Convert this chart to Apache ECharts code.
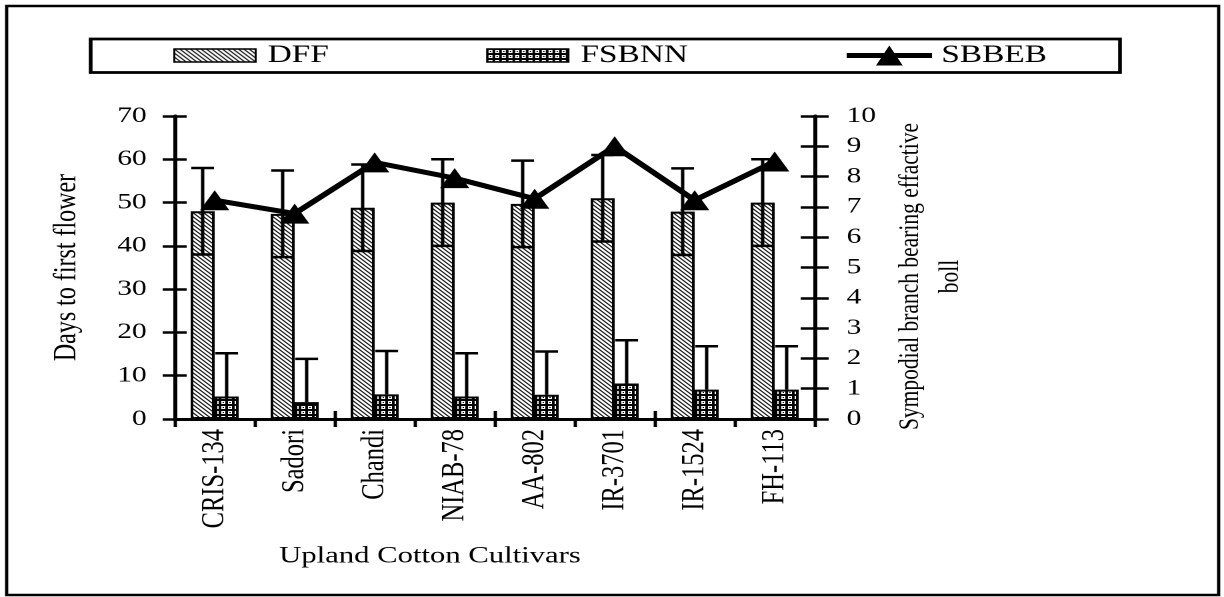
<!DOCTYPE html>
<html><head><meta charset="utf-8">
<script src="https://cdn.jsdelivr.net/npm/echarts@6/dist/echarts.min.js"></script>
<style>
html,body{margin:0;padding:0;background:#fff;overflow:hidden;width:1224px;height:597px;}
#chart{width:918px;height:597px;transform:scaleX(1.3333333);transform-origin:0 0;}
</style></head><body><div id="chart"></div>
<script>
const categories = ['CRIS-134','Sadori','Chandi','NIAB-78','AA-802','IR-3701','IR-1524','FH-113'];
const dff      = [48, 47.4, 48.8, 50, 49.7, 51, 47.9, 50];
const dffErr   = [10, 10, 10, 10, 10, 10, 10, 10];
const fsbnn    = [5.2, 3.9, 5.7, 5.2, 5.6, 8.2, 6.8, 6.8];
const fsbnnErr = [10, 10, 10, 10, 10, 10, 10, 10];
const sbbeb    = [7.22, 6.78, 8.47, 7.95, 7.27, 9.0, 7.22, 8.5];
const leftTicks = {min: 0, max: 70, interval: 10};
const rightTicks = {min: 0, max: 10, interval: 1};

const F = "'Liberation Serif','Times New Roman',serif";

function hatchTile() {
  const c = document.createElement('canvas'); c.width = 8; c.height = 8;
  const g = c.getContext('2d');
  g.fillStyle = '#fff'; g.fillRect(0,0,8,8);
  g.strokeStyle = '#1a1a1a'; g.lineWidth = 2.2;
  g.beginPath();
  g.moveTo(-2,-2); g.lineTo(10,10);
  g.moveTo(-2,6); g.lineTo(2,10);
  g.moveTo(6,-2); g.lineTo(10,2);
  g.stroke();
  return c;
}
function checkTile() {
  const c = document.createElement('canvas'); c.width = 10; c.height = 10;
  const g = c.getContext('2d');
  g.fillStyle = '#000'; g.fillRect(0,0,10,10);
  g.fillStyle = '#fff';
  g.fillRect(2,2,6,6);
  g.fillStyle = '#000';
  g.fillRect(4,4,2,2);
  return c;
}
const hatch = {image: hatchTile(), repeat: 'repeat', scaleX: 0.5, scaleY: 0.5};
const check = {image: checkTile(), repeat: 'repeat', scaleX: 0.5, scaleY: 0.5};

function errRender(sign, both) {
  return function (params, api) {
    const i = api.value(0), v = api.value(1), e = api.value(2);
    const band = api.size([1, 0])[0];
    const bw = band * 0.3;
    const cx = api.coord([i, v])[0] + sign * bw / 2;
    const yTop = api.coord([i, v + e])[1];
    const yBot = api.coord([i, both ? v - e : v])[1];
    const cap = bw * 0.95;
    const style = {stroke: '#000', lineWidth: 2.5, fill: null};
    const children = [
      {type: 'line', shape: {x1: cx, y1: yTop, x2: cx, y2: yBot}, style: style},
      {type: 'line', shape: {x1: cx - cap/2, y1: yTop, x2: cx + cap/2, y2: yTop}, style: style}
    ];
    if (both) children.push({type: 'line', shape: {x1: cx - cap/2, y1: yBot, x2: cx + cap/2, y2: yBot}, style: style});
    return {type: 'group', children: children};
  };
}

const axisLineStyle = {color: '#000', width: 3};
const tickStyle = {color: '#000', width: 2.5};
const labelStyle = {color: '#000', fontFamily: F, fontSize: 22};

const chart = echarts.init(document.getElementById('chart'), null, {renderer: 'canvas', devicePixelRatio: 2});
chart.setOption({
  animation: false,
  backgroundColor: '#fff',
  grid: {left: 131, right: 307, top: 116, bottom: 178, containLabel: false},
  graphic: [
    {type: 'rect', shape: {x: 5, y: 6, width: 909, height: 589}, style: {fill: null, stroke: '#000', lineWidth: 2.4}, z: 0},
    {type: 'rect', shape: {x: 68, y: 39, width: 772, height: 33.5}, style: {fill: null, stroke: '#000', lineWidth: 2.8}, z: 0}
  ],
  legend: [
    {left: 130, top: 43, padding: 0, itemWidth: 61, itemHeight: 13, itemGap: 118, icon: 'rect', selectedMode: false,
     data: ['DFF', 'FSBNN'],
     itemStyle: {borderColor: '#000', borderWidth: 1.5},
     textStyle: {fontFamily: F, fontSize: 25, color: '#000', lineHeight: 25, padding: [0, 0, 0, 4]}},
    {left: 635, top: 43, padding: 0, itemWidth: 64, itemHeight: 20, selectedMode: false,
     data: [{name: 'SBBEB', icon: 'path://M0,7.5 L64,7.5 L64,12.5 L0,12.5 Z M32,0 L42,20 L22,20 Z'}],
     itemStyle: {color: '#000', borderWidth: 0},
     textStyle: {fontFamily: F, fontSize: 25, color: '#000', lineHeight: 25, padding: [0, 0, 0, 2]}}
  ],
  xAxis: [
    {type: 'category', data: categories, position: 'bottom',
     axisLine: {show: true, lineStyle: axisLineStyle},
     axisTick: {show: true, length: 8, lineStyle: tickStyle},
     axisLabel: {interval: 0, rotate: 90, margin: 10, color: '#000', fontFamily: F, fontSize: 24.5},
     splitLine: {show: false},
     name: 'Upland Cotton Cultivars', nameLocation: 'middle', nameGap: 126,
     nameTextStyle: {color: '#000', fontFamily: F, fontSize: 23, padding: [0, 97, 0, 0]}},
    {type: 'category', data: categories, position: 'bottom',
     axisLine: {show: false}, axisTick: {show: true, inside: true, length: 8, lineStyle: tickStyle},
     axisLabel: {show: false}, splitLine: {show: false}}
  ],
  yAxis: [
    {type: 'value', position: 'left', min: leftTicks.min, max: leftTicks.max, interval: leftTicks.interval,
     axisLine: {show: true, lineStyle: axisLineStyle},
     axisTick: {show: true, length: 9, lineStyle: tickStyle},
     axisLabel: Object.assign({margin: 21}, labelStyle),
     splitLine: {show: false},
     name: 'Days to first flower', nameLocation: 'middle', nameRotate: 90, nameGap: 69,
     nameTextStyle: {color: '#000', fontFamily: F, fontSize: 24}},
    {type: 'value', position: 'right', min: rightTicks.min, max: rightTicks.max, interval: rightTicks.interval,
     axisLine: {show: true, lineStyle: axisLineStyle},
     axisTick: {show: true, length: 10.5, lineStyle: tickStyle},
     axisLabel: Object.assign({margin: 24}, labelStyle),
     splitLine: {show: false},
     name: 'Sympodial branch bearing effactive\nboll', nameLocation: 'middle', nameRotate: 90, nameGap: 56,
     nameTextStyle: {color: '#000', fontFamily: F, fontSize: 21.5, lineHeight: 30, align: 'center', padding: [0, 18, 0, 0]}},
    {type: 'value', position: 'left', min: leftTicks.min, max: leftTicks.max, interval: leftTicks.interval,
     axisLine: {show: false}, axisTick: {show: true, inside: true, length: 9, lineStyle: tickStyle},
     axisLabel: {show: false}, splitLine: {show: false}},
    {type: 'value', position: 'right', min: rightTicks.min, max: rightTicks.max, interval: rightTicks.interval,
     axisLine: {show: false}, axisTick: {show: true, inside: true, length: 10.5, lineStyle: tickStyle},
     axisLabel: {show: false}, splitLine: {show: false}}
  ],
  series: [
    {name: 'DFF', type: 'bar', yAxisIndex: 0, data: dff, barWidth: '30%', barGap: '0%',
     itemStyle: {color: hatch, borderColor: '#000', borderWidth: 2}, z: 2},
    {name: 'FSBNN', type: 'bar', yAxisIndex: 0, data: fsbnn, barWidth: '30%', barGap: '0%',
     itemStyle: {color: check, borderColor: '#000', borderWidth: 2}, z: 2},
    {name: 'DFF err', type: 'custom', yAxisIndex: 0, renderItem: errRender(-1, true),
     data: categories.map((c, i) => [i, dff[i], dffErr[i]]), encode: {x: 0, y: 1}, z: 3, silent: true},
    {name: 'FSBNN err', type: 'custom', yAxisIndex: 0, renderItem: errRender(1, false),
     data: categories.map((c, i) => [i, fsbnn[i], fsbnnErr[i]]), encode: {x: 0, y: 1}, z: 3, silent: true},
    {name: 'SBBEB', type: 'line', yAxisIndex: 1, data: sbbeb,
     symbol: 'triangle', symbolSize: [22, 20],
     lineStyle: {color: '#000', width: 5}, itemStyle: {color: '#000'}, z: 4}
  ]
});
</script></body></html>
